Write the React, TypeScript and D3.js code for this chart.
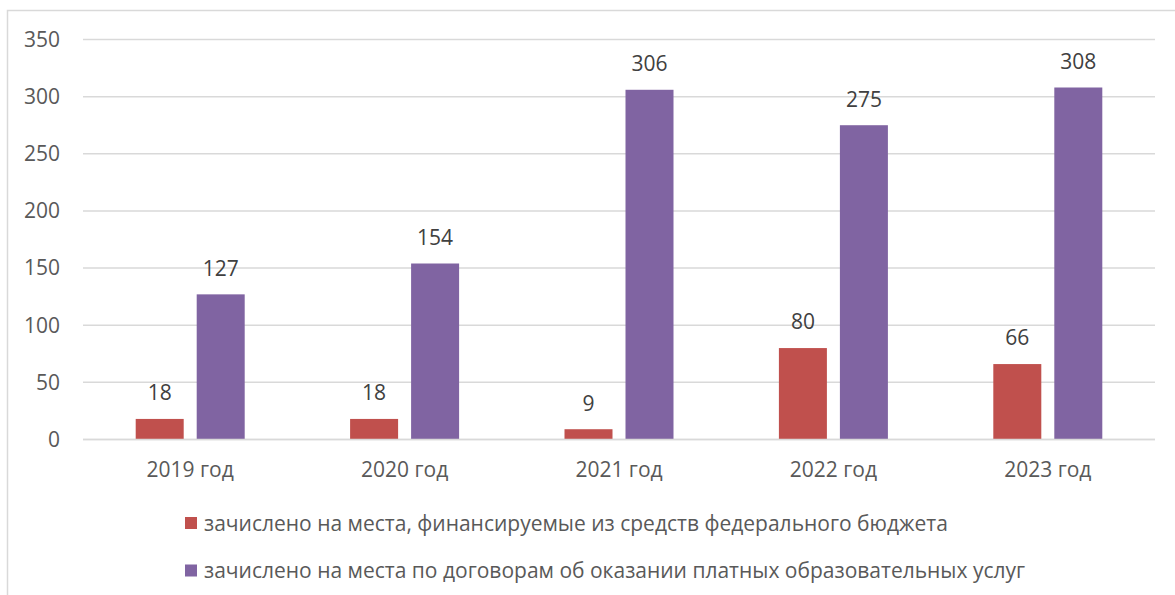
import React from "react";
import * as d3 from "d3";

const categories = ["2019 год", "2020 год", "2021 год", "2022 год", "2023 год"];
const budgetValues = [18, 18, 9, 80, 66];
const paidValues = [127, 154, 306, 275, 308];
const yTicks = [0, 50, 100, 150, 200, 250, 300, 350];
const seriesNames = [
  "зачислено на места, финансируемые из средств федерального бюджета",
  "зачислено на места по договорам об оказании платных образовательных услуг",
];
const colors = ["#C0504D", "#8064A2"];

const W = 1175, H = 595;
const plotLeft = 83, plotRight = 1155, plotTop = 39.5, plotBottom = 439.5;
const FONT = "'Open Sans', sans-serif";
const TEXT = "#595959";
const FS = 21;

export default function App() {
  const x = d3.scaleBand<string>().domain(categories).range([plotLeft, plotRight]);
  const y = d3.scaleLinear().domain([0, 350]).range([plotBottom, plotTop]);
  const barW = 48, gap = 13;
  const series = [budgetValues, paidValues];

  return (
    <svg width={W} height={H} style={{ position: "absolute", left: 0, top: 0, background: "#fff" }}>
      <rect x={7.5} y={10.5} width={1200} height={700} fill="#fff" stroke="#D9D9D9" strokeWidth={1.5} />
      {yTicks.map((t) => (
        <g key={t}>
          <line x1={plotLeft} x2={plotRight} y1={y(t)} y2={y(t)} stroke="#D9D9D9" strokeWidth={1.5} />
          <text x={60} y={y(t)} dy="0.35em" textAnchor="end" fontFamily={FONT} fontSize={FS} fill={TEXT}>{t}</text>
        </g>
      ))}
      {categories.map((c, i) => {
        const cx = (x(c) as number) + x.bandwidth() / 2;
        const groupW = barW * 2 + gap;
        return (
          <g key={c}>
            {series.map((vals, s) => {
              const bx = cx - groupW / 2 + s * (barW + gap);
              const v = vals[i];
              return (
                <g key={s}>
                  <rect x={bx} y={y(v)} width={barW} height={y(0) - y(v)} fill={colors[s]} />
                  <text x={bx + barW / 2} y={y(v) - 26} dy="0.35em" textAnchor="middle" fontFamily={FONT} fontSize={FS} fill="#404040">{v}</text>
                </g>
              );
            })}
            <text x={cx} y={470} dy="0.35em" textAnchor="middle" fontFamily={FONT} fontSize={FS} fill={TEXT}>{c}</text>
          </g>
        );
      })}
      <line x1={plotLeft} x2={plotRight} y1={y(0)} y2={y(0)} stroke="#D9D9D9" strokeWidth={1.5} />
      {seriesNames.map((n, s) => (
        <g key={s}>
          <rect x={185} y={517 + s * 47.5} width={12} height={12} fill={colors[s]} />
          <text x={204} y={523.5 + s * 47.5} dy="0.35em" fontFamily={FONT} fontSize={FS} fill={TEXT}>{n}</text>
        </g>
      ))}
    </svg>
  );
}
